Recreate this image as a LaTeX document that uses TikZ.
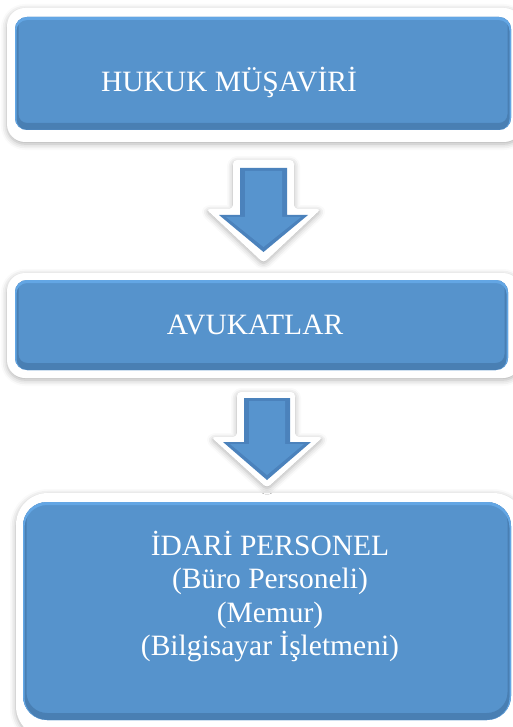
\documentclass[tikz,border=0pt]{standalone}
\usepackage{fontspec}
\setmainfont{Liberation Serif}
\usetikzlibrary{shadows.blur}
\definecolor{boxblue}{HTML}{5693CC}
\definecolor{boxdark}{HTML}{3A6796}
\definecolor{boxlight}{HTML}{63A6E4}
\definecolor{arrowdark}{HTML}{4B82BC}
\definecolor{arrowface}{HTML}{5794CE}
\begin{document}
\begin{tikzpicture}[x=1pt,y=-1pt,
  frame/.style={fill=white, blur shadow={shadow xshift=0pt, shadow yshift=-2pt, shadow blur radius=6pt, shadow opacity=32}},
  bevdark/.style={boxdark, opacity=0.45, line width=7pt},
  bevlight/.style={boxlight, line width=3pt},
  lbl/.style={text=white, font=\fontsize{29.5}{33}\selectfont, inner sep=0pt, anchor=base}]
\useasboundingbox (0,0) rectangle (513,727);
\clip (0,0) rectangle (513,727);

% ---- box 1
\path[frame, rounded corners=18pt] (7,8) rectangle (522,142);
\fill[boxblue, rounded corners=12pt] (15,17) rectangle (511,130);
\begin{scope}
  \clip[rounded corners=12pt] (15,17) rectangle (511,130);
  \draw[bevdark, rounded corners=12pt] (15,13.5) rectangle (511,126.5);
  \draw[bevlight, rounded corners=12pt] (15,18.5) rectangle (511,131.5);
\end{scope}

% ---- box 2
\path[frame, rounded corners=18pt] (7,273) rectangle (521,378);
\fill[boxblue, rounded corners=12pt] (15,280) rectangle (508,370);
\begin{scope}
  \clip[rounded corners=12pt] (15,280) rectangle (508,370);
  \draw[bevdark, rounded corners=12pt] (15,276.5) rectangle (508,366.5);
  \draw[bevlight, rounded corners=12pt] (15,281.5) rectangle (508,371.5);
\end{scope}

% ---- box 3
\path[frame, rounded corners=32pt] (16,493) rectangle (525,738);
\fill[boxblue, rounded corners=24pt] (23,502) rectangle (511,720);
\begin{scope}
  \clip[rounded corners=24pt] (23,502) rectangle (511,720);
  \draw[bevdark, rounded corners=24pt] (23,498.5) rectangle (511,716.5);
  \draw[bevlight, rounded corners=24pt] (23,503.5) rectangle (511,721.5);
\end{scope}

% ---- arrow 1
\path[frame, rounded corners=4pt] (233,160) -- (294,160) -- (294,209) -- (321,209) -- (263.5,263) -- (206,209) -- (233,209) -- cycle;
\fill[arrowdark] (240,168) -- (287,168) -- (287,215) -- (308,215) -- (263.5,252) -- (219,215) -- (240,215) -- cycle;
\fill[arrowface] (245,171) -- (282,171) -- (282,217) -- (301,217) -- (263.5,247) -- (226,217) -- (245,217) -- cycle;

% ---- arrow 2
\path[frame, rounded corners=4pt] (237,392) -- (295,392) -- (295,437) -- (323,437) -- (267,488) -- (211,437) -- (237,437) -- cycle;
\fill[arrowdark] (244,398) -- (290,398) -- (290,442) -- (311,442) -- (267,480) -- (223,442) -- (244,442) -- cycle;
\fill[arrowface] (249,401) -- (285,401) -- (285,444) -- (304,444) -- (267,475) -- (230,444) -- (249,444) -- cycle;

% ---- texts
\node[lbl] (t1) at (229,92) {HUKUK MÜŞAVİRİ};
\node[lbl] (t2) at (255,334) {AVUKATLAR};
\node[lbl] (t3a) at (270,555) {İDARİ PERSONEL};
\node[lbl] (t3b) at (270,588) {(Büro Personeli)};
\node[lbl] (t3c) at (270,622) {(Memur)};
\node[lbl] (t3d) at (270,655) {(Bilgisayar İşletmeni)};
\end{tikzpicture}
\end{document}
